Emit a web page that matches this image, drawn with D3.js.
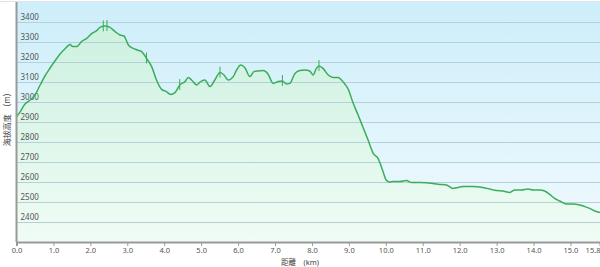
<!DOCTYPE html>
<html>
<head>
<meta charset="utf-8">
<script src="https://cdn.jsdelivr.net/npm/d3@7"></script>
<style>
  body { margin: 0; background: #fff; }
  svg { display: block; font-family: "Noto Sans", "Noto Sans CJK JP", sans-serif; }
</style>
</head>
<body>
<div id="chart"></div>
<script>
// distance along the route (km) and elevation (m)
var distances = [0, 0.1, 0.23, 0.37, 0.5, 0.64, 0.77, 0.91, 1.04, 1.18, 1.31, 1.45, 1.52, 1.63, 1.76, 1.9,
  2.04, 2.17, 2.26, 2.4, 2.53, 2.67, 2.8, 2.91, 3.03, 3.16, 3.27, 3.39, 3.52, 3.66, 3.79, 3.93,
  4.06, 4.17, 4.29, 4.42, 4.56, 4.65, 4.74, 4.88, 4.97, 5.1, 5.24, 5.37, 5.51, 5.62, 5.73, 5.87,
  5.96, 6.07, 6.18, 6.32, 6.43, 6.54, 6.68, 6.81, 6.95, 7.09, 7.2, 7.31, 7.4, 7.54, 7.67, 7.81,
  7.94, 8.03, 8.12, 8.19, 8.3, 8.44, 8.57, 8.71, 8.8, 8.89, 8.98, 9.11, 9.25, 9.39, 9.52, 9.66,
  9.79, 9.92, 10.01, 10.1, 10.2, 10.38, 10.56, 10.7, 10.92, 11.28, 11.46, 11.64, 11.82, 11.96, 12.09, 12.36,
  12.63, 12.81, 13.0, 13.17, 13.36, 13.49, 13.67, 13.85, 13.99, 14.17, 14.3, 14.44, 14.57, 14.71, 14.89, 15.07,
  15.25, 15.39, 15.52, 15.66, 15.8];
var elevations = [2926, 2951, 2990, 3010, 3035, 3085, 3130, 3170, 3205, 3240, 3265, 3288, 3277, 3277, 3302, 3318,
  3343, 3357, 3373, 3380, 3373, 3352, 3335, 3330, 3285, 3268, 3260, 3252, 3218, 3177, 3110, 3063,
  3052, 3038, 3047, 3085, 3102, 3122, 3110, 3085, 3100, 3110, 3077, 3110, 3147, 3135, 3110, 3127,
  3160, 3185, 3173, 3127, 3152, 3155, 3157, 3140, 3093, 3102, 3105, 3090, 3093, 3143, 3157, 3160,
  3155, 3135, 3168, 3180, 3168, 3135, 3123, 3122, 3110, 3090, 3065, 2997, 2935, 2870, 2810, 2743,
  2718, 2655, 2610, 2600, 2602, 2602, 2607, 2597, 2597, 2593, 2588, 2585, 2568, 2573, 2577, 2577,
  2572, 2565, 2557, 2555, 2548, 2560, 2560, 2565, 2560, 2560, 2555, 2538, 2518, 2505, 2490, 2490,
  2485, 2477, 2468, 2455, 2447];

// waypoint markers (small vertical ticks on the line)
var waypointKm = [2.35, 2.45, 3.52, 4.42, 5.51, 7.2, 8.19];
var waypointElev = [3378, 3380, 3218, 3085, 3147, 3105, 3180];

var xTicks = [0, 1, 2, 3, 4, 5, 6, 7, 8, 9, 10, 11, 12, 13, 14, 15, 15.8];
var yTicks = [2400, 2500, 2600, 2700, 2800, 2900, 3000, 3100, 3200, 3300, 3400];

var width = 600, height = 267;
var margin = {top: 2, right: 0, bottom: 25, left: 16.5};
var w = width - margin.left - margin.right;
var h = height - margin.top - margin.bottom;

var data = distances.map(function(d, i) { return {km: d, elev: elevations[i]}; });

var x = d3.scaleLinear().domain([0, 15.8]).range([0, w]);
var y = d3.scaleLinear().domain([2300, 3500]).range([h, 0]);

var svg = d3.select('#chart').append('svg')
  .attr('width', width)
  .attr('height', height);

var defs = svg.append('defs');
var bg = defs.append('linearGradient').attr('id', 'bg').attr('x1', 0).attr('y1', 0).attr('x2', 0).attr('y2', 1);
bg.append('stop').attr('offset', '0%').attr('stop-color', '#cdeefa');
bg.append('stop').attr('offset', '100%').attr('stop-color', '#f1fafe');
var fill = defs.append('linearGradient').attr('id', 'fill').attr('x1', 0).attr('y1', 0).attr('x2', 0).attr('y2', 1);
fill.append('stop').attr('offset', '0%').attr('stop-color', '#cdf1e0');
fill.append('stop').attr('offset', '100%').attr('stop-color', '#f0fcf5');

var g = svg.append('g')
  .attr('transform', 'translate(' + margin.left + ',' + margin.top + ')');

// plot background
g.append('rect')
  .attr('width', w)
  .attr('height', h)
  .attr('fill', 'url(#bg)');

// top border
svg.append('line')
  .attr('x1', 0).attr('x2', width)
  .attr('y1', 1.5).attr('y2', 1.5)
  .attr('stroke', '#dde3e6');

// area under the profile
var area = d3.area()
  .x(function(d) { return x(d.km); })
  .y0(h)
  .y1(function(d) { return y(d.elev); })
  .curve(d3.curveMonotoneX);

g.append('path')
  .datum(data)
  .attr('d', area)
  .attr('fill', 'url(#fill)');

// horizontal grid
g.selectAll('.grid')
  .data(yTicks)
  .enter().append('line')
  .attr('class', 'grid')
  .attr('x1', 0).attr('x2', w)
  .attr('y1', function(d) { return Math.round(y(d)) + 0.5; })
  .attr('y2', function(d) { return Math.round(y(d)) + 0.5; })
  .attr('stroke', '#b6d0d8')
  .attr('stroke-width', 1);

// y labels sit inside the plot, just above the gridline
g.selectAll('.ylab')
  .data(yTicks)
  .enter().append('text')
  .attr('class', 'ylab')
  .attr('x', 4)
  .attr('y', function(d) { return y(d) - 2; })
  .attr('font-size', 8)
  .attr('fill', '#555')
  .text(function(d) { return d; });

// profile line
var line = d3.line()
  .x(function(d) { return x(d.km); })
  .y(function(d) { return y(d.elev); })
  .curve(d3.curveMonotoneX);

g.append('path')
  .datum(data)
  .attr('d', line)
  .attr('fill', 'none')
  .attr('stroke', '#3aad5a')
  .attr('stroke-width', 1.5);

// waypoint ticks
g.selectAll('.wp')
  .data(waypointKm)
  .enter().append('line')
  .attr('class', 'wp')
  .attr('x1', function(d) { return x(d); })
  .attr('x2', function(d) { return x(d); })
  .attr('y1', function(d, i) { return y(waypointElev[i]) - 6; })
  .attr('y2', function(d, i) { return y(waypointElev[i]) + 5; })
  .attr('stroke', '#3aad5a')
  .attr('stroke-width', 1);

// x axis
var xAxis = g.append('g')
  .attr('transform', 'translate(0,' + h + ')')
  .call(d3.axisBottom(x).tickValues(xTicks).tickSize(4).tickPadding(2).tickFormat(d3.format('.1f')));
xAxis.select('.domain').attr('stroke', '#999').attr('stroke-width', 2);
xAxis.selectAll('.tick line').attr('stroke', '#999');
xAxis.selectAll('.tick text')
  .attr('font-size', 7.5)
  .attr('fill', '#555')
  .attr('dy', '0.71em')
  .attr('font-family', '"Noto Sans", sans-serif');
xAxis.selectAll('.tick text')
  .filter(function(d) { return d === 15.8; })
  .attr('text-anchor', 'end')
  .attr('dx', 0);

// left axis line
g.append('line')
  .attr('x1', 0).attr('x2', 0)
  .attr('y1', 0).attr('y2', h)
  .attr('stroke', '#999')
  .attr('stroke-width', 2);

// axis titles
svg.append('text')
  .attr('x', 300)
  .attr('y', 265)
  .attr('text-anchor', 'middle')
  .attr('font-size', 7.5)
  .attr('fill', '#444')
  .text('距離　(km)');

svg.append('text')
  .attr('transform', 'translate(10,120) rotate(-90)')
  .attr('text-anchor', 'middle')
  .attr('font-size', 8)
  .attr('fill', '#444')
  .text('海拔高度　(m)');
</script>
</body>
</html>
